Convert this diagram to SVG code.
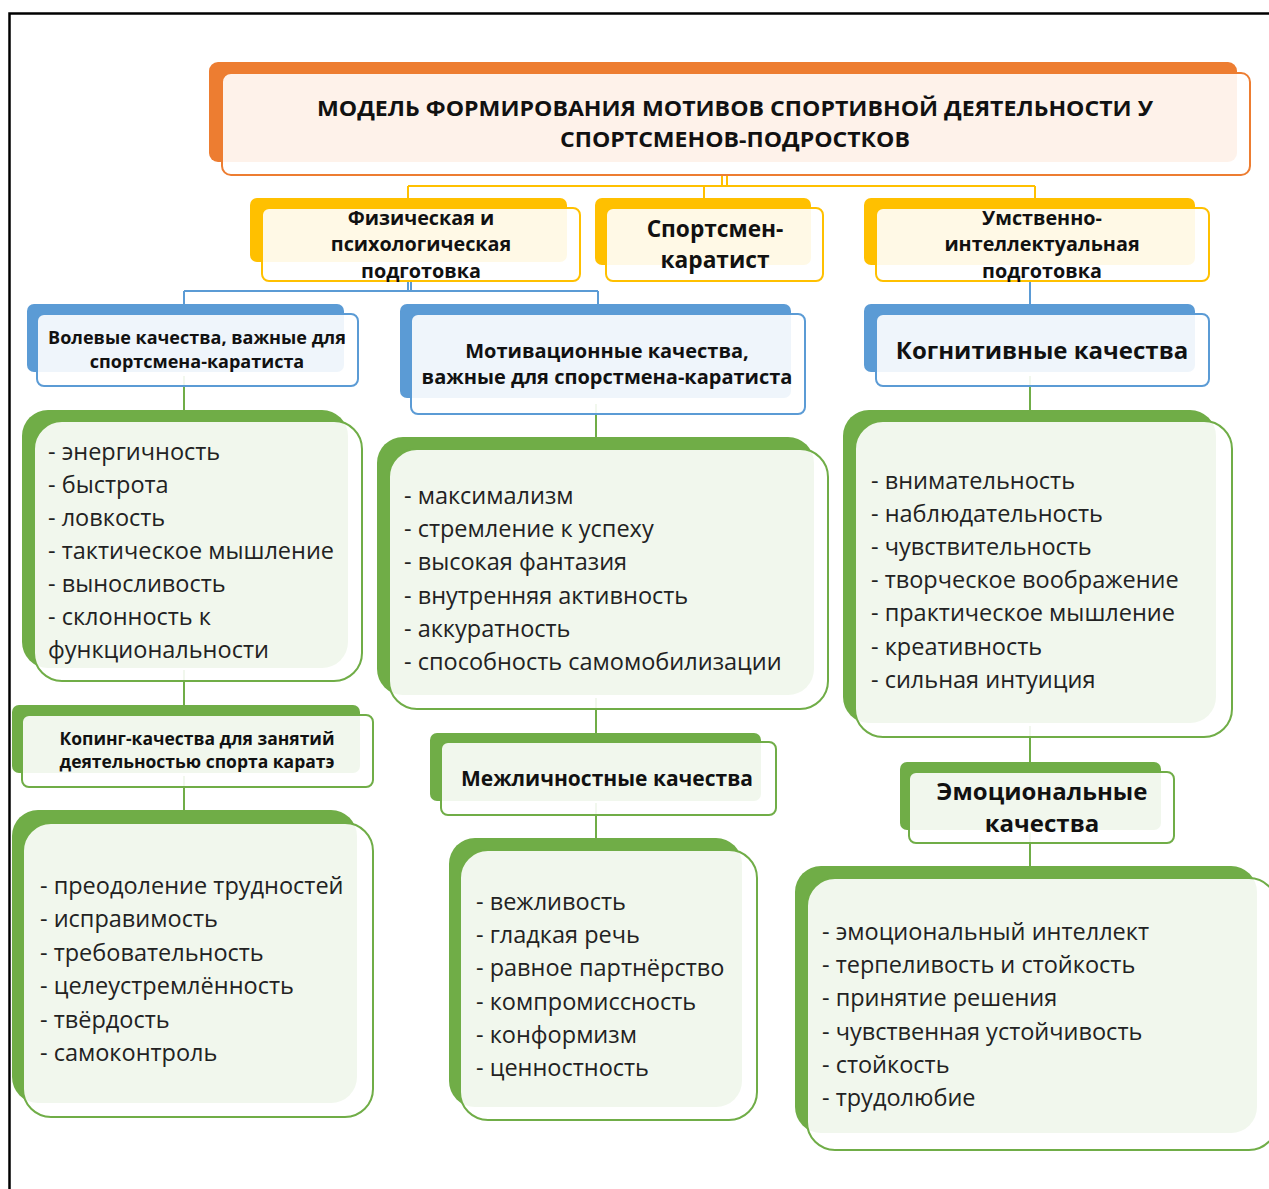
<svg xmlns="http://www.w3.org/2000/svg" width="1269" height="1189" viewBox="0 0 1269 1189">
<style>
.frame{fill:none;stroke:#000;stroke-width:2.5}
.bo{fill:#ED7D31}.by{fill:#FFC000}.bb{fill:#5B9BD5}.bg{fill:#70AD47}
.fr{fill:#fff;fill-opacity:0.9;stroke-width:2}
.so{stroke:#ED7D31}.sy{stroke:#FFC000}.sb{stroke:#5B9BD5}.sg{stroke:#70AD47}
.cy{stroke:#FFC000;stroke-width:2;fill:none}
.cb{stroke:#5B9BD5;stroke-width:2;fill:none}
.cg{stroke:#70AD47;stroke-width:2;fill:none}
.h{font-family:"Open Sans","DejaVu Sans",sans-serif;font-weight:700;fill:#111;text-anchor:middle}
.t{font-family:"Open Sans","DejaVu Sans",sans-serif;font-size:23.5px;fill:#222}
</style>
<rect class="frame" x="9.5" y="13.5" width="1280" height="1200"/>
<g id="connectors">
<path class="cy" d="M722 175V186M727 175V186M408 186H1035M408 186V200M704 186V200M1035 186V200"/>
<path class="cb" d="M408 281V291M411 281V291M184 291H598M184 291V306M598 291V306M1030 281V306"/>
<path class="cg" d="M184 376V411M596 404V439M1030 376V412M184 670V707M596 698V735M1030 726V763M184 776V812M596 803V840M1030 832V868"/>
</g>
<g id="title">
<rect class="bo" x="209" y="62" width="1028" height="100" rx="9"/>
<rect class="fr so" x="222" y="73" width="1028" height="102" rx="9"/>
<text class="h" font-size="22" x="735" y="116" textLength="836" lengthAdjust="spacingAndGlyphs">МОДЕЛЬ ФОРМИРОВАНИЯ МОТИВОВ СПОРТИВНОЙ ДЕЯТЕЛЬНОСТИ У</text>
<text class="h" font-size="22" x="735" y="147" textLength="350" lengthAdjust="spacingAndGlyphs">СПОРТСМЕНОВ-ПОДРОСТКОВ</text>
</g>
<g id="phys">
<rect class="by" x="250" y="198" width="317" height="64" rx="7"/>
<rect class="fr sy" x="262" y="208" width="318" height="73" rx="7"/>
<text class="h" font-size="19.8" x="421" y="225">Физическая и</text>
<text class="h" font-size="19.8" x="421" y="251">психологическая</text>
<text class="h" font-size="19.8" x="421" y="278">подготовка</text>
</g>
<g id="karate">
<rect class="by" x="595" y="198" width="216" height="67" rx="7"/>
<rect class="fr sy" x="606" y="208" width="217" height="73" rx="7"/>
<text class="h" font-size="22.7" x="715" y="237">Спортсмен-</text>
<text class="h" font-size="22.7" x="715" y="268">каратист</text>
</g>
<g id="mental">
<rect class="by" x="864" y="198" width="331" height="67" rx="7"/>
<rect class="fr sy" x="876" y="208" width="333" height="73" rx="7"/>
<text class="h" font-size="19.8" x="1042" y="225">Умственно-</text>
<text class="h" font-size="19.8" x="1042" y="251">интеллектуальная</text>
<text class="h" font-size="19.8" x="1042" y="278">подготовка</text>
</g>
<g id="volevye">
<rect class="bb" x="27" y="304" width="317" height="68" rx="7"/>
<rect class="fr sb" x="37" y="314" width="321" height="72" rx="7"/>
<text class="h" font-size="18" x="197" y="344">Волевые качества, важные для</text>
<text class="h" font-size="18" x="197" y="368">спортсмена-каратиста</text>
</g>
<g id="motiv">
<rect class="bb" x="400" y="304" width="391" height="94" rx="7"/>
<rect class="fr sb" x="411" y="314" width="394" height="100" rx="7"/>
<text class="h" font-size="20" x="607" y="358">Мотивационные качества,</text>
<text class="h" font-size="20" x="607" y="384">важные для спорстмена-каратиста</text>
</g>
<g id="cognit">
<rect class="bb" x="864" y="304" width="331" height="68" rx="7"/>
<rect class="fr sb" x="876" y="314" width="333" height="72" rx="7"/>
<text class="h" font-size="24" x="1042" y="359">Когнитивные качества</text>
</g>
<g id="volevye-list">
<rect class="bg" x="22" y="410" width="326" height="258" rx="26"/>
<rect class="fr sg" x="34" y="421" width="328" height="260" rx="28"/>
<text class="t" x="48" y="460">- энергичность</text>
<text class="t" x="48" y="493">- быстрота</text>
<text class="t" x="48" y="526">- ловкость</text>
<text class="t" x="48" y="559">- тактическое мышление</text>
<text class="t" x="48" y="592">- выносливость</text>
<text class="t" x="48" y="625">- склонность к</text>
<text class="t" x="48" y="658">функциональности</text>
</g>
<g id="motiv-list">
<rect class="bg" x="377" y="437" width="437" height="258" rx="26"/>
<rect class="fr sg" x="389" y="449" width="439" height="260" rx="28"/>
<text class="t" x="404" y="504">- максимализм</text>
<text class="t" x="404" y="537">- стремление к успеху</text>
<text class="t" x="404" y="570">- высокая фантазия</text>
<text class="t" x="404" y="604">- внутренняя активность</text>
<text class="t" x="404" y="637">- аккуратность</text>
<text class="t" x="404" y="670">- способность самомобилизации</text>
</g>
<g id="cognit-list">
<rect class="bg" x="843" y="410" width="373" height="313" rx="26"/>
<rect class="fr sg" x="855" y="421" width="377" height="316" rx="28"/>
<text class="t" x="871" y="489">- внимательность</text>
<text class="t" x="871" y="522">- наблюдательность</text>
<text class="t" x="871" y="555">- чувствительность</text>
<text class="t" x="871" y="588">- творческое воображение</text>
<text class="t" x="871" y="621">- практическое мышление</text>
<text class="t" x="871" y="655">- креативность</text>
<text class="t" x="871" y="688">- сильная интуиция</text>
</g>
<g id="coping">
<rect class="bg" x="12" y="705" width="348" height="68" rx="7"/>
<rect class="fr sg" x="22" y="715" width="351" height="72" rx="7"/>
<text class="h" font-size="17.5" x="197" y="745">Копинг-качества для занятий</text>
<text class="h" font-size="17.5" x="197" y="768">деятельностью спорта каратэ</text>
</g>
<g id="interpersonal">
<rect class="bg" x="430" y="733" width="331" height="68" rx="7"/>
<rect class="fr sg" x="441" y="742" width="335" height="73" rx="7"/>
<text class="h" font-size="21" x="607" y="786">Межличностные качества</text>
</g>
<g id="emotional">
<rect class="bg" x="900" y="762" width="261" height="68" rx="7"/>
<rect class="fr sg" x="909" y="772" width="265" height="71" rx="7"/>
<text class="h" font-size="24" x="1042" y="800">Эмоциональные</text>
<text class="h" font-size="24" x="1042" y="832">качества</text>
</g>
<g id="coping-list">
<rect class="bg" x="12" y="810" width="345" height="293" rx="26"/>
<rect class="fr sg" x="23" y="823" width="350" height="294" rx="28"/>
<text class="t" x="40" y="894">- преодоление трудностей</text>
<text class="t" x="40" y="927">- исправимость</text>
<text class="t" x="40" y="961">- требовательность</text>
<text class="t" x="40" y="994">- целеустремлённость</text>
<text class="t" x="40" y="1028">- твёрдость</text>
<text class="t" x="40" y="1061">- самоконтроль</text>
</g>
<g id="interpersonal-list">
<rect class="bg" x="449" y="838" width="293" height="269" rx="26"/>
<rect class="fr sg" x="460" y="850" width="297" height="270" rx="28"/>
<text class="t" x="476" y="910">- вежливость</text>
<text class="t" x="476" y="943">- гладкая речь</text>
<text class="t" x="476" y="976">- равное партнёрство</text>
<text class="t" x="476" y="1010">- компромиссность</text>
<text class="t" x="476" y="1043">- конформизм</text>
<text class="t" x="476" y="1076">- ценностность</text>
</g>
<g id="emotional-list">
<rect class="bg" x="795" y="866" width="462" height="267" rx="26"/>
<rect class="fr sg" x="807" y="878" width="470" height="272" rx="28"/>
<text class="t" x="822" y="940">- эмоциональный интеллект</text>
<text class="t" x="822" y="973">- терпеливость и стойкость</text>
<text class="t" x="822" y="1006">- принятие решения</text>
<text class="t" x="822" y="1040">- чувственная устойчивость</text>
<text class="t" x="822" y="1073">- стойкость</text>
<text class="t" x="822" y="1106">- трудолюбие</text>
</g>
</svg>
